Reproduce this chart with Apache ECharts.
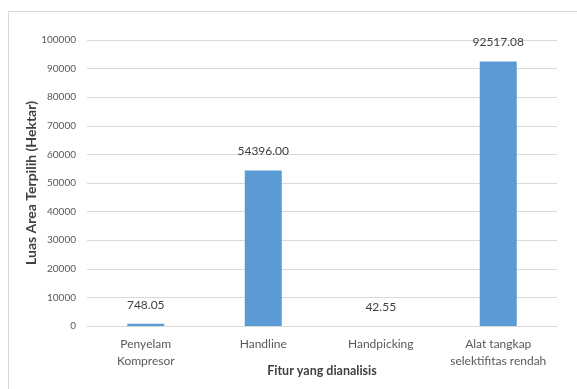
<!DOCTYPE html>
<html><head><meta charset="utf-8">
<script src="https://cdn.jsdelivr.net/npm/echarts@6/dist/echarts.min.js"></script>
<style>html,body{margin:0;padding:0;background:#fff}#frame{position:absolute;left:8px;top:11px;width:600px;height:400px;border:1px solid #d9d9d9;box-sizing:border-box}#c{position:absolute;left:0;top:0;width:577px;height:389px}</style>
</head><body>
<div id="frame"></div>
<div id="c"></div>
<script>
const categories = ['Penyelam\nKompresor', 'Handline', 'Handpicking', 'Alat tangkap\nselektifitas rendah'];
const values = [748.05, 54396.00, 42.55, 92517.08];
const yTicks = {min: 0, max: 100000, interval: 10000};
const font = 'Lato, "Open Sans", sans-serif';
const chart = echarts.init(document.getElementById('c'));
chart.setOption({
  animation: false,
  grid: {left: 87, right: 20, top: 40, bottom: 63, containLabel: false, outerBoundsMode: 'none'},
  xAxis: {
    type: 'category', data: categories,
    name: 'Fitur yang dianalisis', nameLocation: 'middle', nameGap: 38, nameMoveOverlap: false,
    nameTextStyle: {fontFamily: font, fontWeight: 'bold', fontSize: 12.5, color: '#404040'},
    axisLine: {lineStyle: {color: '#d9d9d9', width: 1}},
    axisTick: {show: false},
    axisLabel: {fontFamily: font, fontSize: 12, color: '#595959', lineHeight: 17, margin: 10, interval: 0}
  },
  yAxis: {
    type: 'value', min: yTicks.min, max: yTicks.max, interval: yTicks.interval,
    name: 'Luas Area Terpilih (Hektar)', nameLocation: 'middle', nameGap: 49, nameMoveOverlap: false,
    nameTextStyle: {fontFamily: font, fontWeight: 'bold', fontSize: 14, color: '#404040'},
    axisLine: {show: false}, axisTick: {show: false},
    splitLine: {lineStyle: {color: '#d9d9d9', width: 1}},
    axisLabel: {fontFamily: font, fontSize: 10, color: '#595959', margin: 11, formatter: v => String(v)}
  },
  series: [{
    type: 'bar', data: values, barWidth: 37,
    itemStyle: {color: '#5b9bd5'},
    label: {show: true, position: 'top', distance: 13, fontFamily: font, fontSize: 12, color: '#404040',
      formatter: p => p.value.toFixed(2)}
  }]
});
</script>
</body></html>
